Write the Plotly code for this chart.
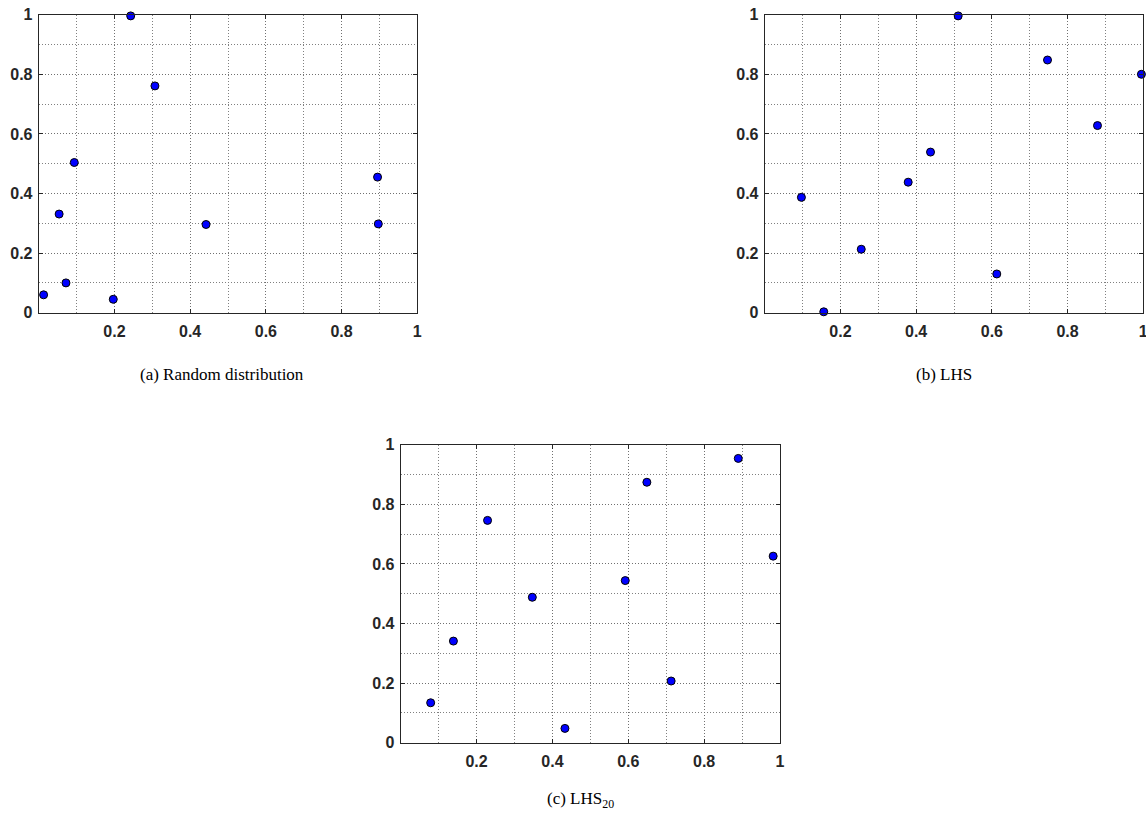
import plotly.graph_objects as go

# Panel (a) Random distribution
rand_x = [0.013, 0.054, 0.072, 0.094, 0.197, 0.243, 0.307, 0.442, 0.895, 0.897]
rand_y = [0.060, 0.331, 0.100, 0.504, 0.045, 0.996, 0.761, 0.296, 0.455, 0.298]

# Panel (b) LHS
lhs_x = [0.097, 0.156, 0.255, 0.379, 0.438, 0.511, 0.613, 0.747, 0.879, 0.995]
lhs_y = [0.387, 0.003, 0.213, 0.438, 0.539, 0.996, 0.130, 0.848, 0.628, 0.800]

# Panel (c) LHS20
lhs20_x = [0.079, 0.139, 0.229, 0.347, 0.433, 0.592, 0.649, 0.713, 0.890, 0.982]
lhs20_y = [0.134, 0.341, 0.746, 0.488, 0.048, 0.544, 0.874, 0.207, 0.954, 0.626]

x_tickvals = [0.2, 0.4, 0.6, 0.8, 1.0]
x_ticktext = ["0.2", "0.4", "0.6", "0.8", "1"]
y_tickvals = [0.0, 0.2, 0.4, 0.6, 0.8, 1.0]
y_ticktext = ["0", "0.2", "0.4", "0.6", "0.8", "1"]

captions = ["(a) Random distribution", "(b) LHS", "(c) LHS<sub>20</sub>"]

W, H = 1146, 818
# plot-area pixel boxes on screen: (left, right, top, bottom)
boxes = [(38.7, 417.3, 14.7, 312.7), (764.7, 1143.3, 14.7, 312.7), (400.7, 780.0, 444.7, 742.7)]
caption_pos = [(222, 374), (944, 374), (580, 800)]


def px(x):
    return x / W


def py(y):
    return 1 - y / H


fig = go.Figure()
data = [(rand_x, rand_y), (lhs_x, lhs_y), (lhs20_x, lhs20_y)]

tickfont = dict(family="Liberation Sans, Arial, sans-serif", size=16, color="#262626", weight="bold")
for i, ((xs, ys), (l, r, t, b)) in enumerate(zip(data, boxes)):
    n = "" if i == 0 else str(i + 1)
    fig.add_trace(go.Scatter(
        x=xs, y=ys, mode="markers", xaxis="x" + n, yaxis="y" + n,
        marker=dict(size=8, color="#0000ff", line=dict(color="black", width=1)),
        showlegend=False, cliponaxis=False,
    ))
    common = dict(
        range=[0, 1], showline=True, linecolor="#262626", linewidth=1, mirror="ticks",
        ticks="inside", ticklen=4, tickcolor="#262626", tickwidth=1,
        showgrid=True, gridcolor="#707070", gridwidth=1, griddash="1px,2px",
        minor=dict(dtick=0.1, tick0=0, showgrid=True, gridcolor="#808080", griddash="1px,2px", gridwidth=1, ticks=""),
        zeroline=False, tickfont=tickfont, fixedrange=True, automargin=False,
        ticklabeloverflow="allow",
    )
    fig.update_layout({
        "xaxis" + n: dict(common, domain=[px(l), px(r)], anchor="y" + n,
                          tickmode="array", tickvals=x_tickvals, ticktext=x_ticktext, ticklabelstandoff=4),
        "yaxis" + n: dict(common, domain=[py(b), py(t)], anchor="x" + n,
                          tickmode="array", tickvals=y_tickvals, ticktext=y_ticktext, ticklabelstandoff=2),
    })

for cap, (cx, cy) in zip(captions, caption_pos):
    fig.add_annotation(text=cap, x=px(cx), y=py(cy), xref="paper", yref="paper",
                       showarrow=False, xanchor="center", yanchor="middle",
                       font=dict(family="Liberation Serif, Times New Roman, serif", size=17, color="black"))

fig.update_layout(width=W, height=H, margin=dict(l=0, r=0, t=0, b=0, autoexpand=False),
                  paper_bgcolor="white", plot_bgcolor="white", hovermode=False)

fig.write_html("out.html", config={"displayModeBar": False, "staticPlot": True},
               post_script="document.body.style.margin='0';document.documentElement.style.overflow='hidden';")
